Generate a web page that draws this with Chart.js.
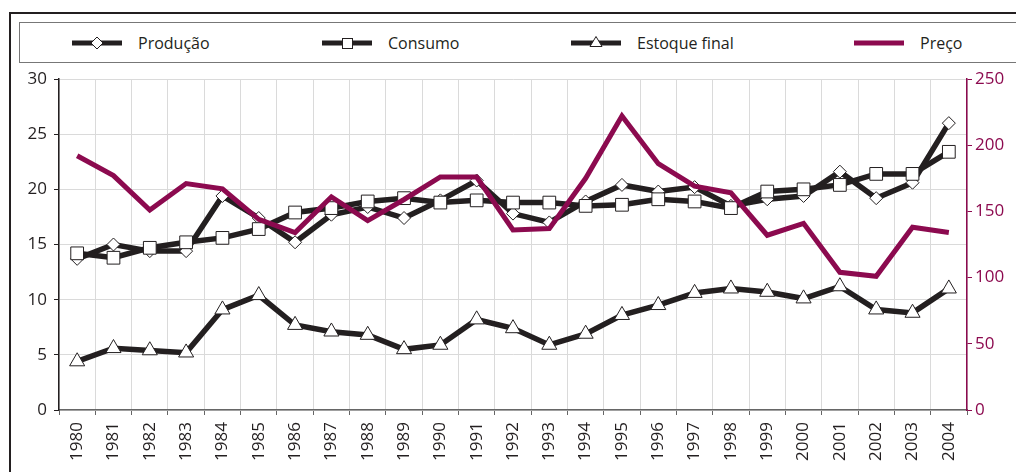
<!DOCTYPE html>
<html lang="pt">
<head>
<meta charset="utf-8">
<title>Produção, consumo, estoque final e preço</title>
<script src="https://cdn.jsdelivr.net/npm/chart.js@4/dist/chart.umd.min.js"></script>
<style>
  html, body { margin: 0; padding: 0; background: #fff; overflow: hidden; }
  body { width: 1016px; height: 472px; position: relative; font-family: "Open Sans", "Noto Sans", sans-serif; color: #231f20; }
  #frame { position: absolute; left: 9px; top: 12px; width: 1100px; height: 500px; border-left: 2px solid #231f20; border-top: 2px solid #231f20; }
  #legend { position: absolute; left: 19px; top: 22px; width: 1100px; height: 39px; border: 1px solid #777; }
  .item { position: absolute; top: 0; height: 39px; display: flex; align-items: center; font-size: 16px; }
  .item svg { margin-right: 16px; }
  #chart { position: absolute; left: 0; top: 0; }
</style>
</head>
<body>
<div id="frame"></div>
<div id="legend"></div>
<canvas id="chart" width="1016" height="472"></canvas>
<script>
// Years on the x axis
const years = ['1980', '1981', '1982', '1983', '1984', '1985', '1986', '1987', '1988', '1989',
               '1990', '1991', '1992', '1993', '1994', '1995', '1996', '1997', '1998', '1999',
               '2000', '2001', '2002', '2003', '2004'];

// Left axis series
const producao = [13.7, 15.0, 14.4, 14.4, 19.4, 17.4, 15.2, 17.7, 18.4, 17.4,
                  19.0, 20.8, 17.8, 17.0, 18.9, 20.4, 19.8, 20.2, 18.5, 19.1,
                  19.4, 21.6, 19.2, 20.6, 26.0];
const consumo = [14.2, 13.8, 14.7, 15.2, 15.6, 16.4, 17.9, 18.3, 18.9, 19.2,
                 18.8, 19.0, 18.8, 18.8, 18.5, 18.6, 19.1, 18.9, 18.3, 19.8,
                 20.0, 20.4, 21.4, 21.4, 23.4];
const estoqueFinal = [4.4, 5.6, 5.4, 5.2, 9.1, 10.4, 7.7, 7.1, 6.8, 5.5,
                      5.9, 8.2, 7.4, 5.9, 6.9, 8.6, 9.5, 10.6, 11.0, 10.7,
                      10.1, 11.2, 9.1, 8.8, 11.0];

// Right axis series
const preco = [192, 177, 151, 171, 167, 144, 134, 161, 143, 159,
               176, 176, 136, 137, 175, 222, 186, 169, 164, 132,
               141, 104, 101, 138, 134];

// Axis ticks
const leftTicks = [0, 5, 10, 15, 20, 25, 30];
const rightTicks = [0, 50, 100, 150, 200, 250];

const INK = '#231f20';
const WINE = '#8c0a4f';
const FONT = '"Open Sans", "Noto Sans", sans-serif';

// Legend built as HTML, with small svg line + marker icons
const legendItems = [
    { label: 'Produção', left: 52, marker: 'diamond' },
    { label: 'Consumo', left: 302, marker: 'square' },
    { label: 'Estoque final', left: 551, marker: 'triangle' },
    { label: 'Preço', left: 834, marker: null }
];

function markerSvg(kind) {
    if (kind === 'diamond') return '<polygon points="25,4 31,10 25,16 19,10" fill="#fff" stroke="' + INK + '" stroke-width="1"/>';
    if (kind === 'square') return '<rect x="20.5" y="5.5" width="10" height="10" fill="#fff" stroke="' + INK + '" stroke-width="1"/>';
    if (kind === 'triangle') return '<polygon points="25,3.5 31,13.5 19,13.5" fill="#fff" stroke="' + INK + '" stroke-width="1"/>';
    return '';
}

const legendEl = document.getElementById('legend');
legendItems.forEach(item => {
    const color = item.marker ? INK : WINE;
    const div = document.createElement('div');
    div.className = 'item';
    div.style.left = item.left + 'px';
    div.innerHTML =
        '<svg width="50" height="20" viewBox="0 0 50 20">' +
        '<line x1="0" y1="10" x2="50" y2="10" stroke="' + color + '" stroke-width="5"/>' +
        markerSvg(item.marker) + '</svg><span>' + item.label + '</span>';
    legendEl.appendChild(div);
});

function blackSeries(label, data, style, radius, order) {
    return {
        label: label,
        data: data,
        yAxisID: 'y',
        borderColor: INK,
        borderWidth: 5.5,
        tension: 0,
        pointStyle: style,
        pointRadius: radius,
        pointHoverRadius: radius,
        pointBackgroundColor: '#fff',
        pointBorderColor: INK,
        pointBorderWidth: 1,
        order: order
    };
}

new Chart(document.getElementById('chart'), {
    type: 'line',
    data: {
        labels: years,
        datasets: [
            blackSeries('Produção', producao, 'rectRot', 6.5, 3),
            blackSeries('Consumo', consumo, 'rect', 9, 2),
            blackSeries('Estoque final', estoqueFinal, 'triangle', 8.7, 1),
            {
                label: 'Preço',
                data: preco,
                yAxisID: 'y1',
                borderColor: WINE,
                borderWidth: 5,
                tension: 0,
                pointRadius: 0,
                order: 0
            }
        ]
    },
    options: {
        responsive: false,
        animation: false,
        devicePixelRatio: 1,
        layout: { padding: { top: 79, left: 0, right: 0, bottom: 0 } },
        plugins: { legend: { display: false }, tooltip: { enabled: false } },
        scales: {
            x: {
                offset: true,
                grid: { offset: true, color: '#dadada', tickColor: '#666', tickLength: 5 },
                border: { color: '#666', width: 1.5 },
                ticks: {
                    autoSkip: false,
                    minRotation: 90,
                    maxRotation: 90,
                    padding: 7,
                    color: INK,
                    font: { family: FONT, size: 17 }
                },
                afterFit: scale => { scale.height = 62; }
            },
            y: {
                position: 'left',
                min: 0,
                max: 30,
                afterBuildTicks: scale => { scale.ticks = leftTicks.map(v => ({ value: v })); },
                grid: { color: '#dadada', tickColor: INK, tickLength: 5 },
                border: { color: INK, width: 1.5 },
                ticks: { padding: 7, color: INK, font: { family: FONT, size: 17 } },
                afterFit: scale => { scale.width = 59; }
            },
            y1: {
                position: 'right',
                min: 0,
                max: 250,
                afterBuildTicks: scale => { scale.ticks = rightTicks.map(v => ({ value: v })); },
                grid: { drawOnChartArea: false, tickColor: WINE, tickLength: 5 },
                border: { color: WINE, width: 1.5 },
                ticks: { padding: 3, color: WINE, font: { family: FONT, size: 17 } },
                afterFit: scale => { scale.width = 49; }
            }
        }
    }
});
</script>
</body>
</html>
